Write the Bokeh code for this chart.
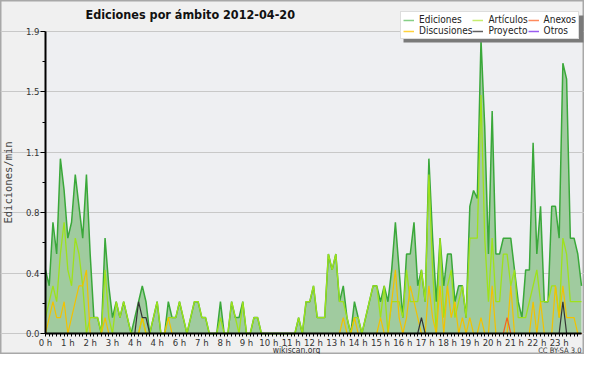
from bokeh.plotting import figure
from bokeh.models import FixedTicker, Legend, LegendItem, Label, Range1d, ColumnDataSource, BoxAnnotation
from bokeh.embed import file_html
from bokeh.resources import INLINE

# ---- data: edits per minute, 10-minute bins, 00:00 .. 24:00 ----
ediciones = [
    0.4, 0.3, 0.7, 0.5, 1.1, 0.9, 0.6, 0.7, 1.0, 0.8, 0.6, 1.0,
    0.5, 0.1, 0.1, 0.0, 0.6, 0.3, 0.1, 0.2, 0.1, 0.2, 0.1, 0.0,
    0.1, 0.2, 0.3, 0.2, 0.0, 0.1, 0.2, 0.0, 0.0, 0.2, 0.1, 0.1,
    0.2, 0.1, 0.0, 0.1, 0.2, 0.2, 0.1, 0.1, 0.0, 0.0, 0.0, 0.2,
    0.0, 0.0, 0.2, 0.1, 0.1, 0.2, 0.0, 0.0, 0.1, 0.1, 0.0, 0.0,
    0.0, 0.0, 0.0, 0.0, 0.0, 0.0, 0.0, 0.0, 0.1, 0.0, 0.2, 0.2,
    0.3, 0.1, 0.1, 0.1, 0.5, 0.4, 0.5, 0.2, 0.3, 0.1, 0.0, 0.2,
    0.1, 0.0, 0.1, 0.2, 0.3, 0.3, 0.2, 0.3, 0.2, 0.4, 0.7, 0.4,
    0.1, 0.5, 0.5, 0.7, 0.3, 0.4, 0.2, 1.1, 0.6, 0.2, 0.6, 0.3,
    0.5, 0.5, 0.2, 0.3, 0.3, 0.1, 0.8, 0.9, 0.85, 1.85, 1.3, 0.5,
    1.4, 0.5, 0.5, 0.6, 0.6, 0.6, 0.4, 0.2, 0.1, 0.4, 0.4, 1.2,
    0.5, 0.8, 0.2, 0.2, 0.8, 0.8, 0.6, 1.7, 1.6, 0.6, 0.6, 0.5,
    0.3,
]
articulos = [
    0.1, 0.2, 0.3, 0.2, 0.5, 0.7, 0.4, 0.3, 0.6, 0.5, 0.3, 0.0,
    0.1, 0.1, 0.1, 0.0, 0.4, 0.1, 0.0, 0.2, 0.1, 0.2, 0.1, 0.0,
    0.0, 0.0, 0.1, 0.0, 0.0, 0.1, 0.2, 0.0, 0.0, 0.1, 0.1, 0.1,
    0.2, 0.1, 0.0, 0.1, 0.2, 0.2, 0.1, 0.1, 0.0, 0.0, 0.0, 0.1,
    0.0, 0.0, 0.2, 0.1, 0.0, 0.2, 0.0, 0.0, 0.1, 0.1, 0.0, 0.0,
    0.0, 0.0, 0.0, 0.0, 0.0, 0.0, 0.0, 0.0, 0.1, 0.0, 0.2, 0.2,
    0.3, 0.1, 0.1, 0.1, 0.5, 0.4, 0.5, 0.2, 0.2, 0.1, 0.0, 0.1,
    0.1, 0.0, 0.1, 0.2, 0.3, 0.3, 0.1, 0.3, 0.0, 0.2, 0.2, 0.2,
    0.1, 0.4, 0.2, 0.2, 0.2, 0.4, 0.2, 1.0, 0.4, 0.0, 0.6, 0.1,
    0.3, 0.4, 0.1, 0.2, 0.3, 0.1, 0.6, 0.6, 0.6, 1.5, 0.6, 0.2,
    0.6, 0.2, 0.2, 0.5, 0.5, 0.3, 0.4, 0.1, 0.1, 0.1, 0.2, 0.3,
    0.4, 0.2, 0.2, 0.2, 0.3, 0.3, 0.1, 0.6, 0.5, 0.2, 0.2, 0.2,
    0.2,
]
discusiones = [
    0.0, 0.1, 0.2, 0.1, 0.1, 0.2, 0.0, 0.1, 0.2, 0.3, 0.3, 0.4,
    0.0, 0.0, 0.0, 0.0, 0.1, 0.0, 0.0, 0.0, 0.0, 0.0, 0.0, 0.0,
    0.0, 0.0, 0.1, 0.0, 0.0, 0.0, 0.0, 0.0, 0.0, 0.1, 0.0, 0.0,
    0.0, 0.0, 0.0, 0.0, 0.0, 0.0, 0.0, 0.0, 0.0, 0.0, 0.0, 0.0,
    0.0, 0.0, 0.0, 0.0, 0.0, 0.0, 0.0, 0.0, 0.0, 0.0, 0.0, 0.0,
    0.0, 0.0, 0.0, 0.0, 0.0, 0.0, 0.0, 0.0, 0.0, 0.0, 0.0, 0.0,
    0.0, 0.0, 0.0, 0.0, 0.0, 0.0, 0.0, 0.0, 0.1, 0.0, 0.0, 0.1,
    0.0, 0.0, 0.0, 0.0, 0.0, 0.0, 0.1, 0.0, 0.0, 0.2, 0.4, 0.1,
    0.0, 0.1, 0.3, 0.2, 0.1, 0.0, 0.0, 0.3, 0.1, 0.0, 0.3, 0.0,
    0.3, 0.1, 0.2, 0.0, 0.1, 0.0, 0.1, 0.0, 0.0, 0.1, 0.0, 0.0,
    0.3, 0.0, 0.0, 0.0, 0.0, 0.3, 0.0, 0.0, 0.0, 0.0, 0.0, 0.2,
    0.0, 0.2, 0.0, 0.0, 0.0, 0.3, 0.1, 0.3, 0.1, 0.1, 0.1, 0.0,
    0.0,
]
proyecto = [
    0.0, 0.0, 0.0, 0.0, 0.0, 0.0, 0.0, 0.0, 0.0, 0.0, 0.0, 0.0,
    0.0, 0.0, 0.0, 0.0, 0.0, 0.0, 0.0, 0.0, 0.0, 0.0, 0.0, 0.0,
    0.0, 0.2, 0.1, 0.1, 0.0, 0.0, 0.0, 0.0, 0.0, 0.0, 0.0, 0.0,
    0.0, 0.0, 0.0, 0.0, 0.0, 0.0, 0.0, 0.0, 0.0, 0.0, 0.0, 0.0,
    0.0, 0.0, 0.0, 0.0, 0.0, 0.0, 0.0, 0.0, 0.0, 0.0, 0.0, 0.0,
    0.0, 0.0, 0.0, 0.0, 0.0, 0.0, 0.0, 0.0, 0.0, 0.0, 0.0, 0.0,
    0.0, 0.0, 0.0, 0.0, 0.0, 0.0, 0.0, 0.0, 0.0, 0.0, 0.0, 0.0,
    0.0, 0.0, 0.0, 0.0, 0.0, 0.0, 0.0, 0.0, 0.0, 0.0, 0.0, 0.0,
    0.0, 0.0, 0.0, 0.0, 0.0, 0.1, 0.0, 0.0, 0.0, 0.0, 0.0, 0.0,
    0.0, 0.0, 0.0, 0.0, 0.0, 0.0, 0.0, 0.0, 0.0, 0.0, 0.0, 0.0,
    0.0, 0.0, 0.0, 0.0, 0.0, 0.0, 0.0, 0.0, 0.0, 0.0, 0.0, 0.0,
    0.0, 0.0, 0.0, 0.0, 0.0, 0.0, 0.0, 0.2, 0.0, 0.0, 0.0, 0.0,
    0.0,
]
anexos = [
    0.0, 0.0, 0.0, 0.0, 0.0, 0.0, 0.0, 0.0, 0.0, 0.0, 0.0, 0.0,
    0.0, 0.0, 0.0, 0.0, 0.0, 0.0, 0.0, 0.0, 0.0, 0.0, 0.0, 0.0,
    0.0, 0.0, 0.0, 0.0, 0.0, 0.0, 0.0, 0.0, 0.0, 0.0, 0.0, 0.0,
    0.0, 0.0, 0.0, 0.0, 0.0, 0.0, 0.0, 0.0, 0.0, 0.0, 0.0, 0.0,
    0.0, 0.0, 0.0, 0.0, 0.0, 0.0, 0.0, 0.0, 0.0, 0.0, 0.0, 0.0,
    0.0, 0.0, 0.0, 0.0, 0.0, 0.0, 0.0, 0.0, 0.0, 0.0, 0.0, 0.0,
    0.0, 0.0, 0.0, 0.0, 0.0, 0.0, 0.0, 0.0, 0.0, 0.0, 0.0, 0.0,
    0.0, 0.0, 0.0, 0.0, 0.0, 0.0, 0.0, 0.0, 0.0, 0.0, 0.0, 0.0,
    0.0, 0.0, 0.0, 0.0, 0.0, 0.0, 0.0, 0.0, 0.0, 0.0, 0.0, 0.0,
    0.0, 0.0, 0.0, 0.0, 0.0, 0.0, 0.0, 0.0, 0.0, 0.0, 0.0, 0.0,
    0.0, 0.0, 0.0, 0.0, 0.1, 0.0, 0.0, 0.0, 0.0, 0.0, 0.0, 0.0,
    0.0, 0.0, 0.0, 0.0, 0.0, 0.0, 0.0, 0.0, 0.0, 0.0, 0.0, 0.0,
    0.0,
]
# time of each bin in hours (10-minute steps)
hours = [k * 10 / 60 for k in range(len(ediciones))]

series_names = ["Ediciones", "Artículos", "Anexos", "Discusiones", "Proyecto", "Otros"]

y_ticks = [0.0, 0.38, 0.76, 1.14, 1.52, 1.9]
y_tick_labels = ["0.0", "0.4", "0.8", "1.1", "1.5", "1.9"]
x_ticks = list(range(24))
x_tick_labels = ["0 h", "1 h", "2 h", "3 h", "4 h", "4 h", "6 h", "7 h", "8 h", "9 h",
                 "10 h", "11 h", "12 h", "13 h", "14 h", "15 h", "16 h", "17 h", "18 h",
                 "19 h", "20 h", "21 h", "22 h", "23 h"]

title_text = "Ediciones por ámbito  2012-04-20"
y_label = "Ediciones/min"
footer_text = "wikiscan.org"
license_text = "CC BY-SA 3.0"

# ---- layout (pixels of the 584x354 canvas) ----
W, H = 584, 354
FL, FR, FT, FB = 45, 581, 31, 333          # where the data frame 0..24 h x 0..1.9 sits
X0, X1, Y0, Y1 = 0.0, 24.0, 0.0, 1.9
sx = (FR - FL) / (X1 - X0)
sy = (FB - FT) / (Y1 - Y0)
x_range = Range1d(X0 - FL / sx, X1 + (W - FR) / sx)
y_range = Range1d(Y0 - (H - FB) / sy, Y1 + FT / sy)

SMALL = "'DejaVu Sans Condensed', 'DejaVu Sans'"
c_ed, c_art, c_disc, c_proy, c_anex = "#3aa83a", "#9ee21a", "#f2c200", "#333333", "#f26522"
legend_colors = ["#86cf86", "#c6ec6e", "#ff8a5c", "#ffd23c", "#606060", "#9a5cf0"]

p = figure(width=W, height=H, output_backend="svg", toolbar_location=None,
           x_range=x_range, y_range=y_range,
           min_border_left=0, min_border_right=0, min_border_top=0, min_border_bottom=0)
p.title.visible = False
p.background_fill_color = "#f0f0f0"
p.border_fill_color = "#f0f0f0"
p.outline_line_color = "#a8a8a8"
p.outline_line_width = 2

# plot area tint
p.add_layout(BoxAnnotation(left=X0, right=X1, bottom=Y0, top=Y1, fill_color="#eeeff2",
                           fill_alpha=1.0, line_color=None, level="image"))

src = ColumnDataSource(dict(h=hours, ed=ediciones, art=articulos, disc=discusiones,
                            proy=proyecto, anex=anexos))
p.varea(x="h", y1=0, y2="ed", source=src, fill_color="#a0cb9f")
p.line(x="h", y="ed", source=src, line_color=c_ed, line_width=1.5)
p.line(x="h", y="art", source=src, line_color=c_art, line_width=1.3)
p.line(x="h", y="disc", source=src, line_color=c_disc, line_width=1.2)
p.line(x="h", y="proy", source=src, line_color=c_proy, line_width=1.2)
p.line(x="h", y="anex", source=src, line_color=c_anex, line_width=1.2)

# legend box: shadow, then the legend (lighter swatches as in the original)
LG_L, LG_R, LG_T, LG_B = 400, 580, 12, 39
p.add_layout(BoxAnnotation(left=LG_L + 3, right=LG_R + 3, top=H - (LG_T + 3), bottom=H - (LG_B + 3),
                           left_units="screen", right_units="screen", top_units="screen",
                           bottom_units="screen", fill_color="#7a7a7a", fill_alpha=1.0,
                           line_color=None))
nan_src = ColumnDataSource(dict(x=[float("nan")], y=[float("nan")]))
items = []
for name, col in zip(series_names, legend_colors):
    r = p.line(x="x", y="y", source=nan_src, line_color=col, line_width=1.5)
    items.append(LegendItem(label=name, renderers=[r]))
legend = Legend(items=items, orientation="horizontal", ncols=3, nrows=2,
                location=(LG_L, H - LG_B), label_text_font=SMALL, label_text_font_size="10px",
                label_text_color="#222222", glyph_width=11, glyph_height=10,
                label_standoff=5, label_height=10, padding=2, spacing=0, margin=0,
                border_line_color="#bbbbbb", background_fill_color="white",
                background_fill_alpha=1.0)
p.add_layout(legend, "center")

# axes fixed on the data frame
p.xgrid.visible = False
p.ygrid.ticker = FixedTicker(ticks=y_ticks)
p.ygrid.grid_line_color = "#c8c8c8"
p.ygrid.bounds = (X0, X1)

x_minor = [t for t in hours if abs(t - round(t)) > 1e-6]
p.xaxis.ticker = FixedTicker(ticks=x_ticks, minor_ticks=x_minor)
p.xaxis.major_label_overrides = {t: s for t, s in zip(x_ticks, x_tick_labels)}
y_minor = [(a + b) / 2 for a, b in zip(y_ticks[:-1], y_ticks[1:])]
p.yaxis.ticker = FixedTicker(ticks=y_ticks, minor_ticks=y_minor)
p.yaxis.major_label_overrides = {t: s for t, s in zip(y_ticks, y_tick_labels)}

p.xaxis.fixed_location = Y0
p.yaxis.fixed_location = X0
p.xaxis.bounds = (X0, X1)
p.yaxis.bounds = (Y0, Y1)

for ax in (p.xaxis[0], p.yaxis[0]):
    ax.axis_line_color = "black"
    ax.axis_line_width = 2
    ax.major_tick_line_color = "black"
    ax.minor_tick_line_color = "black"
    ax.major_tick_in = 0
    ax.minor_tick_in = 0
    ax.major_label_text_font = SMALL
    ax.major_label_text_font_size = "9.5px"
    ax.major_label_text_color = "#333333"
p.xaxis.major_tick_out = 3
p.xaxis.minor_tick_out = 3
p.xaxis.major_label_standoff = 0
p.yaxis.major_tick_out = 5
p.yaxis.minor_tick_out = 3
p.yaxis.major_label_standoff = 1
p.yaxis.axis_label = y_label
p.yaxis.axis_label_text_font = "DejaVu Sans Mono"
p.yaxis.axis_label_text_font_style = "normal"
p.yaxis.axis_label_text_font_size = "10.5px"
p.yaxis.axis_label_standoff = 9

# texts (screen units measured from the canvas bottom-left)
p.add_layout(Label(x=85, y=H - 14, x_units="screen", y_units="screen", text=title_text,
                   text_font="'DejaVu Sans Condensed', 'DejaVu Sans'", text_font_style="bold",
                   text_font_size="12.5px", text_baseline="middle", text_color="#111111"))
p.add_layout(Label(x=296, y=H - 349.5, x_units="screen", y_units="screen",
                   text=footer_text, text_font=SMALL, text_font_size="8.5px", text_align="center",
                   text_baseline="middle", text_color="#333333"))
p.add_layout(Label(x=FR, y=H - 349.5, x_units="screen", y_units="screen", text=license_text,
                   text_font=SMALL, text_font_size="7.5px", text_align="right",
                   text_baseline="middle", text_color="#333333"))

open("out.html", "w").write(file_html(p, INLINE))
